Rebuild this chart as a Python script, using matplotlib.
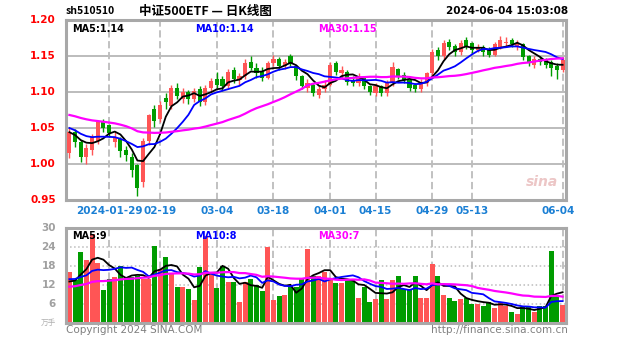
import numpy as np
import pandas as pd
import matplotlib.pyplot as plt

plt.rcParams['font.family'] = ['Noto Sans CJK SC', 'DejaVu Sans']

# trading days shown (2024)
dates = ['01-18', '01-19', '01-22', '01-23', '01-24', '01-25', '01-26', '01-29', '01-30', '01-31',
         '02-01', '02-02', '02-05', '02-06', '02-07', '02-08', '02-19', '02-20', '02-21', '02-22',
         '02-23', '02-26', '02-27', '02-28', '02-29', '03-01', '03-04', '03-05', '03-06', '03-07',
         '03-08', '03-11', '03-12', '03-13', '03-14', '03-15', '03-18', '03-19', '03-20', '03-21',
         '03-22', '03-25', '03-26', '03-27', '03-28', '03-29', '04-01', '04-02', '04-03', '04-08',
         '04-09', '04-10', '04-11', '04-12', '04-15', '04-16', '04-17', '04-18', '04-19', '04-22',
         '04-23', '04-24', '04-25', '04-26', '04-29', '04-30', '05-06', '05-07', '05-08', '05-09',
         '05-10', '05-13', '05-14', '05-15', '05-16', '05-17', '05-20', '05-21', '05-22', '05-23',
         '05-24', '05-27', '05-28', '05-29', '05-30', '05-31', '06-03', '06-04']

opens = [1.015, 1.045, 1.030, 1.010, 1.020, 1.032, 1.058, 1.054, 1.030, 1.035,
         1.020, 1.010, 0.998, 0.975, 1.032, 1.077, 1.062, 1.092, 1.080, 1.105,
         1.090, 1.100, 1.090, 1.104, 1.086, 1.105, 1.118, 1.118, 1.108, 1.130,
         1.116, 1.122, 1.142, 1.134, 1.128, 1.120, 1.140, 1.146, 1.136, 1.150,
         1.136, 1.122, 1.106, 1.110, 1.096, 1.104, 1.110, 1.140, 1.126, 1.128,
         1.116, 1.112, 1.120, 1.108, 1.098, 1.108, 1.098, 1.112, 1.132, 1.124,
         1.116, 1.110, 1.104, 1.112, 1.126, 1.158, 1.150, 1.170, 1.164, 1.155,
         1.172, 1.168, 1.158, 1.162, 1.158, 1.152, 1.162, 1.168, 1.172, 1.162,
         1.166, 1.150, 1.138, 1.146, 1.144, 1.142, 1.136, 1.130]

closes = [1.045, 1.030, 1.010, 1.022, 1.038, 1.058, 1.050, 1.043, 1.036, 1.018,
          1.012, 0.992, 0.966, 1.032, 1.068, 1.060, 1.082, 1.086, 1.105, 1.095,
          1.100, 1.090, 1.102, 1.086, 1.106, 1.115, 1.110, 1.108, 1.128, 1.118,
          1.122, 1.140, 1.134, 1.126, 1.120, 1.140, 1.146, 1.136, 1.142, 1.140,
          1.122, 1.108, 1.112, 1.098, 1.104, 1.110, 1.138, 1.128, 1.130, 1.114,
          1.112, 1.120, 1.108, 1.100, 1.108, 1.098, 1.112, 1.135, 1.122, 1.116,
          1.106, 1.104, 1.114, 1.126, 1.156, 1.150, 1.168, 1.162, 1.155, 1.168,
          1.164, 1.158, 1.162, 1.155, 1.152, 1.166, 1.172, 1.170, 1.166, 1.168,
          1.148, 1.140, 1.146, 1.142, 1.138, 1.134, 1.130, 1.145]

highs = [1.050, 1.048, 1.033, 1.028, 1.042, 1.060, 1.062, 1.056, 1.045, 1.038,
         1.025, 1.015, 1.000, 1.036, 1.070, 1.082, 1.088, 1.098, 1.110, 1.112,
         1.106, 1.103, 1.106, 1.108, 1.110, 1.120, 1.128, 1.122, 1.132, 1.135,
         1.126, 1.146, 1.150, 1.140, 1.135, 1.143, 1.152, 1.148, 1.146, 1.153,
         1.138, 1.124, 1.118, 1.112, 1.110, 1.116, 1.142, 1.143, 1.136, 1.130,
         1.122, 1.126, 1.122, 1.110, 1.112, 1.110, 1.116, 1.142, 1.134, 1.128,
         1.118, 1.112, 1.118, 1.128, 1.160, 1.162, 1.172, 1.174, 1.167, 1.172,
         1.176, 1.170, 1.166, 1.165, 1.162, 1.170, 1.178, 1.176, 1.175, 1.172,
         1.168, 1.152, 1.150, 1.150, 1.147, 1.145, 1.140, 1.148]

lows = [1.008, 1.024, 1.003, 1.000, 1.012, 1.028, 1.044, 1.038, 1.024, 1.010,
        1.004, 0.982, 0.956, 0.968, 1.026, 1.052, 1.058, 1.076, 1.076, 1.090,
        1.085, 1.084, 1.086, 1.080, 1.082, 1.100, 1.105, 1.102, 1.106, 1.112,
        1.110, 1.118, 1.130, 1.120, 1.115, 1.118, 1.136, 1.130, 1.132, 1.136,
        1.116, 1.104, 1.100, 1.094, 1.092, 1.100, 1.108, 1.124, 1.120, 1.110,
        1.108, 1.108, 1.104, 1.096, 1.094, 1.094, 1.095, 1.108, 1.118, 1.112,
        1.102, 1.100, 1.100, 1.108, 1.122, 1.145, 1.146, 1.158, 1.150, 1.152,
        1.160, 1.154, 1.155, 1.150, 1.148, 1.150, 1.160, 1.162, 1.162, 1.158,
        1.144, 1.136, 1.134, 1.138, 1.134, 1.122, 1.118, 1.128]

volumes = [16.0, 13.5, 22.5, 20.0, 28.0, 19.0, 10.5, 14.0, 14.5, 18.0,
           14.0, 14.5, 15.0, 14.0, 13.8, 24.4, 17.0, 21.0, 15.4, 11.5,
           11.5, 10.6, 7.4, 17.6, 27.6, 15.9, 11.2, 18.0, 13.0, 13.0,
           6.6, 13.0, 14.0, 12.0, 10.0, 24.0, 7.4, 8.4, 9.0, 11.5,
           11.5, 14.0, 23.4, 15.0, 15.0, 16.0, 14.0, 12.5, 12.5, 14.0,
           14.0, 8.0, 11.5, 6.5, 7.5, 13.5, 7.5, 13.5, 14.7, 10.6,
           10.6, 14.7, 8.0, 8.0, 18.6, 15.0, 9.0, 8.0, 7.0, 7.5,
           8.0, 6.0, 6.0, 5.5, 6.5, 4.8, 6.7, 5.5, 3.5, 3.0,
           5.0, 5.5, 3.5, 5.5, 5.5, 22.8, 9.0, 5.8]

# trading days before the window, only used for the moving averages
prior_closes = [1.085, 1.080, 1.078, 1.082, 1.086, 1.080, 1.075, 1.070, 1.072, 1.078,
                1.082, 1.085, 1.080, 1.076, 1.072, 1.075, 1.078, 1.074, 1.070, 1.065,
                1.062, 1.058, 1.055, 1.052, 1.052, 1.050, 1.045, 1.040, 1.041]
prior_volumes = [9.0, 11.0, 10.0, 8.5, 12.0, 10.0, 9.5, 11.0, 10.5, 9.0,
                 12.5, 10.0, 9.0, 11.0, 10.0, 10.5, 9.5, 11.5, 10.0, 11.0,
                 13.0, 16.0, 15.0, 14.0, 15.0, 12.0, 13.0, 11.5, 13.0]

tick_dates = ['01-29', '02-19', '03-04', '03-18', '04-01', '04-15', '04-29', '05-13', '06-04']
tick_texts = ['2024-01-29', '02-19', '03-04', '03-18', '04-01', '04-15', '04-29', '05-13', '06-04']
price_ticks = [0.95, 1.00, 1.05, 1.10, 1.15, 1.20]
vol_ticks = [6, 12, 18, 24, 30]

n_prior = len(prior_closes)
close_s = pd.Series(prior_closes + closes)
vol_s = pd.Series(prior_volumes + volumes)
x = np.arange(len(closes))

up_color = '#ff5555'
down_color = '#009c00'
frame_color = '#a8a8a8'
grid_color = '#bcbcbc'

fig = plt.figure(figsize=(6.27, 3.42), dpi=100)
W, H = 627, 342
ax = fig.add_axes([66 / W, 1 - 200 / H, 500 / W, 180 / H])
axv = fig.add_axes([66 / W, 1 - 323 / H, 500 / W, 95 / H])

o = np.array(opens)
c = np.array(closes)
colors = [up_color if cc >= oo else down_color for oo, cc in zip(o, c)]

# price candles
ax.vlines(x, lows, highs, colors=colors, linewidth=1.0, zorder=3)
ax.bar(x, np.maximum(np.abs(c - o), 0.0015), bottom=np.minimum(o, c), width=0.72,
       color=colors, linewidth=0, zorder=3)

for win, col, lw in [(5, 'black', 1.3), (10, '#0000ff', 1.3), (30, '#ff00ff', 1.6)]:
    ma = close_s.rolling(win).mean().values[n_prior:]
    ax.plot(x, ma, color=col, linewidth=lw, zorder=4)
    mv = vol_s.rolling(win).mean().values[n_prior:]
    axv.plot(x, mv, color=col, linewidth=lw, zorder=4)

axv.bar(x, volumes, width=0.86, color=colors, linewidth=0, zorder=2)

tick_pos = [dates.index(d) for d in tick_dates]
for a in (ax, axv):
    a.set_xlim(-0.6, len(closes) - 0.4)
    for p in tick_pos:
        a.axvline(p, color=grid_color, linestyle=(0, (4, 2)), linewidth=1.3, zorder=1)
    for s in a.spines.values():
        s.set_color(frame_color)
        s.set_linewidth(2.2)
    a.set_xticks([])
    a.tick_params(left=False, labelleft=False)

ax.set_ylim(0.95, 1.20)
for p in price_ticks[1:-1]:
    ax.axhline(p, color=grid_color, linewidth=1.4, zorder=1)
for p in price_ticks:
    ax.text(-0.02, p, f'{p:.2f}', transform=ax.get_yaxis_transform(), ha='right', va='center',
            color='#ff0000', fontsize=7.5, fontweight='bold', family='DejaVu Sans')

axv.set_ylim(0, 30)
for p in vol_ticks[:-1]:
    axv.axhline(p, color=grid_color, linewidth=1.1, linestyle=':', zorder=1)
for p in vol_ticks:
    axv.text(-0.02, p, str(p), transform=axv.get_yaxis_transform(), ha='right', va='center',
             color='#a0a0a0', fontsize=7.5, fontweight='bold', family='DejaVu Sans')
axv.text(-0.02, 0, '万手', transform=axv.get_yaxis_transform(), ha='right', va='center',
         color='#b0b0b0', fontsize=5.5)

# date labels between the panels
for p, t in zip(tick_pos, tick_texts):
    ha = 'right' if t == '06-04' else 'center'
    xp = p + 2.2 if t == '06-04' else p
    fig.text((66 + (xp + 0.6) * 500 / (len(closes) + 0.2)) / W, 1 - 211 / H, t,
             ha=ha, va='center', color='#1a7fd4', fontsize=7.5, fontweight='bold',
             family='DejaVu Sans')

# header
fig.text(66 / W, 1 - 11 / H, 'sh510510', ha='left', va='center', fontsize=7.5, fontweight='bold')
fig.text(205 / W, 1 - 11 / H, '中证500ETF — 日K线图', ha='center', va='center',
         fontsize=9, fontweight='bold')
fig.text(568 / W, 1 - 11 / H, '2024-06-04 15:03:08', ha='right', va='center',
         fontsize=7.5, fontweight='bold', family='DejaVu Sans')

# MA labels
ax.text(0.012, 0.975, 'MA5:1.14', transform=ax.transAxes, ha='left', va='top',
        color='black', fontsize=7, fontweight='bold', family='DejaVu Sans')
ax.text(0.258, 0.975, 'MA10:1.14', transform=ax.transAxes, ha='left', va='top',
        color='#0000ff', fontsize=7, fontweight='bold', family='DejaVu Sans')
ax.text(0.504, 0.975, 'MA30:1.15', transform=ax.transAxes, ha='left', va='top',
        color='#ff00ff', fontsize=7, fontweight='bold', family='DejaVu Sans')
axv.text(0.012, 0.97, 'MA5:9', transform=axv.transAxes, ha='left', va='top',
         color='black', fontsize=7, fontweight='bold', family='DejaVu Sans')
axv.text(0.258, 0.97, 'MA10:8', transform=axv.transAxes, ha='left', va='top',
         color='#0000ff', fontsize=7, fontweight='bold', family='DejaVu Sans')
axv.text(0.504, 0.97, 'MA30:7', transform=axv.transAxes, ha='left', va='top',
         color='#ff00ff', fontsize=7, fontweight='bold', family='DejaVu Sans')

# watermark and footer
ax.text(0.985, 0.06, 'sina', transform=ax.transAxes, ha='right', va='bottom',
        color='#e0a0a0', fontsize=10, fontweight='bold', style='italic', alpha=0.6,
        family='DejaVu Sans')
fig.text(66 / W, 1 - 330 / H, 'Copyright 2024 SINA.COM', ha='left', va='center',
         color='#808080', fontsize=7.5, family='DejaVu Sans')
fig.text(568 / W, 1 - 330 / H, 'http://finance.sina.com.cn', ha='right', va='center',
         color='#808080', fontsize=7.5, family='DejaVu Sans')

fig.savefig('out.png', dpi=100, facecolor='white')
